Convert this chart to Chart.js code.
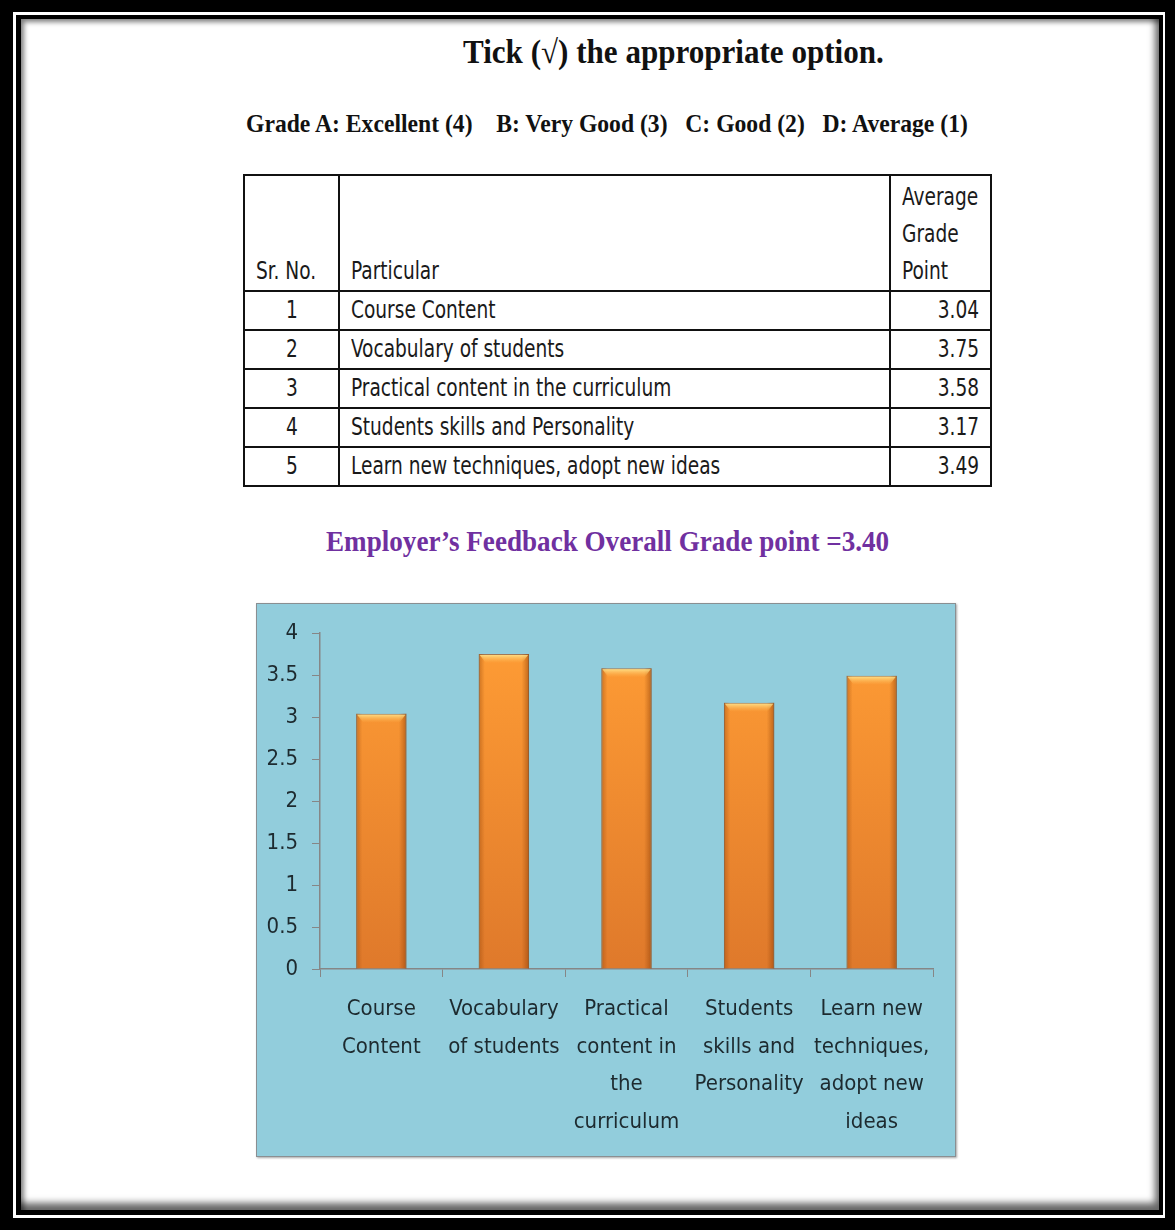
<!DOCTYPE html>
<html>
<head>
<meta charset="utf-8">
<script src="https://cdn.jsdelivr.net/npm/chart.js@4.4.1/dist/chart.umd.min.js"></script>
<style>
html,body{margin:0;padding:0;}
body{width:1175px;height:1230px;background:#000;position:relative;overflow:hidden;}
.f1{position:absolute;left:13px;top:12px;width:1152px;height:1206px;background:#fff;}
.f2{position:absolute;left:16px;top:15px;width:1147px;height:1200px;background:#000;}
.f3{position:absolute;left:21px;top:19px;width:1138px;height:1191px;background:#fff;
  box-shadow: inset 5px 5px 5px -2px rgba(0,0,0,0.5), inset -7px -10px 7px -3px rgba(0,0,0,0.6);}
.t{position:absolute;white-space:pre;font-family:"Liberation Serif","DejaVu Serif",serif;font-weight:bold;transform-origin:left center;line-height:1;color:#111;}
#tbl{position:absolute;left:243px;top:174px;width:747px;table-layout:fixed;border-collapse:collapse;font-family:"DejaVu Sans Condensed","DejaVu Sans",sans-serif;font-stretch:condensed;font-size:24px;color:#1a1a1a;}
#tbl td{border:2px solid #111;padding:0 11px;height:37px;line-height:37px;white-space:nowrap;overflow:visible;}
#tbl tr.h td{height:114px;vertical-align:bottom;line-height:37px;}
#tbl span{display:inline-block;transform:scaleX(0.86);}
#tbl .l span{transform-origin:left center;}
#tbl .c{text-align:center;}
#tbl .c span{transform-origin:center center;}
#tbl .r{text-align:right;}
#tbl .r span{transform-origin:right center;}
#chartBox{position:absolute;left:256px;top:603px;width:698px;height:552px;background:#92CDDC;border:1px solid #8a8f92;box-shadow:1px 1px 2px rgba(0,0,0,0.35);}
</style>
</head>
<body>
<div class="f1"></div>
<div class="f2"></div>
<div class="f3"></div>

<div class="t" id="title">Tick (√) the appropriate option.</div>
<div class="t" id="grades">Grade A: Excellent (4)    B: Very Good (3)   C: Good (2)   D: Average (1)</div>
<table id="tbl"></table>
<div class="t" id="overall" style="color:#7030A0">Employer’s Feedback Overall Grade point =3.40</div>

<div id="chartBox"><canvas id="c"></canvas></div>

<script>
// ---- data ----
const serialNos = [1, 2, 3, 4, 5];
const particulars = [
  "Course Content",
  "Vocabulary of students",
  "Practical content in the curriculum",
  "Students skills and Personality",
  "Learn new techniques, adopt new ideas"
];
const gradePoints = [3.04, 3.75, 3.58, 3.17, 3.49];
const gradePointLabels = ["3.04", "3.75", "3.58", "3.17", "3.49"];
const categories = [
  ["Course", "Content"],
  ["Vocabulary", "of students"],
  ["Practical", "content in", "the", "curriculum"],
  ["Students", "skills and", "Personality"],
  ["Learn new", "techniques,", "adopt new", "ideas"]
];
const yTicks = [0, 0.5, 1, 1.5, 2, 2.5, 3, 3.5, 4];
const yTickLabels = ["0", "0.5", "1", "1.5", "2", "2.5", "3", "3.5", "4"];
const headers = ["Sr. No.", "Particular", ["Average", "Grade", "Point"]];

// ---- headings ----
function place(id, left, centerY, width, size) {
  const el = document.getElementById(id);
  el.style.fontSize = size + 'px';
  el.style.left = left + 'px';
  el.style.top = (centerY - size / 2) + 'px';
  const w = el.offsetWidth;
  el.style.transform = 'scaleX(' + (width / w) + ')';
}
place('title', 463, 52, 421, 33);
place('grades', 246, 124, 722, 26);
place('overall', 326, 541, 563, 30);

// ---- table ----
const tbl = document.getElementById('tbl');
let html = '<colgroup><col style="width:95px"><col style="width:551px"><col style="width:101px"></colgroup>';
html += '<tr class="h"><td class="l"><span>' + headers[0] + '</span></td><td class="l"><span>' + headers[1] +
  '</span></td><td class="l"><span>' + headers[2].join('<br>') + '</span></td></tr>';
for (let i = 0; i < serialNos.length; i++) {
  html += '<tr><td class="c"><span>' + serialNos[i] + '</span></td><td class="l"><span>' + particulars[i] +
    '</span></td><td class="r"><span>' + gradePointLabels[i] + '</span></td></tr>';
}
tbl.innerHTML = html;

// ---- chart ----
const axisGray = '#868686';
const labelColor = '#1d2a2f';
const condFont = '"DejaVu Sans Condensed","DejaVu Sans",sans-serif';

const barShade = {
  id: 'barShade',
  afterDatasetsDraw(chart) {
    const ctx = chart.ctx;
    chart.getDatasetMeta(0).data.forEach(bar => {
      const p = bar.getProps(['x', 'y', 'base', 'width'], true);
      const l = p.x - p.width / 2, r = p.x + p.width / 2;
      const h = p.base - p.y;
      ctx.save();
      const g = ctx.createLinearGradient(l, 0, r, 0);
      g.addColorStop(0, 'rgba(150,70,10,0.45)');
      g.addColorStop(0.12, 'rgba(150,70,10,0.0)');
      g.addColorStop(0.85, 'rgba(150,70,10,0.0)');
      g.addColorStop(1, 'rgba(140,60,5,0.55)');
      ctx.fillStyle = g;
      ctx.fillRect(l, p.y, p.width, h);
      const bh = 9;
      const g2 = ctx.createLinearGradient(0, p.y, 0, p.y + bh);
      g2.addColorStop(0, 'rgba(255,236,150,0.95)');
      g2.addColorStop(1, 'rgba(255,190,90,0.0)');
      ctx.fillStyle = g2;
      ctx.beginPath();
      ctx.moveTo(l + 1, p.y + 1);
      ctx.lineTo(r - 1, p.y + 1);
      ctx.lineTo(r - 7, p.y + bh);
      ctx.lineTo(l + 7, p.y + bh);
      ctx.closePath();
      ctx.fill();
      ctx.restore();
    });
  }
};

new Chart(document.getElementById('c'), {
  type: 'bar',
  data: {
    labels: categories,
    datasets: [{
      data: gradePoints,
      backgroundColor(context) {
        const ca = context.chart.chartArea;
        if (!ca) return '#F79646';
        const g = context.chart.ctx.createLinearGradient(0, ca.top, 0, ca.bottom);
        g.addColorStop(0, '#FF9D35');
        g.addColorStop(1, '#DF792B');
        return g;
      },
      borderColor: 'rgba(170,85,25,0.7)',
      borderWidth: 1,
      borderSkipped: 'bottom',
      categoryPercentage: 1.0,
      barPercentage: 0.41
    }]
  },
  options: {
    responsive: true,
    maintainAspectRatio: false,
    animation: false,
    layout: { padding: { left: 0, top: 29, right: 22, bottom: 0 } },
    plugins: { legend: { display: false }, tooltip: { enabled: false } },
    scales: {
      x: {
        offset: true,
        grid: { display: true, drawOnChartArea: false, drawTicks: true, tickLength: 8, offset: true, color: axisGray, lineWidth: 1 },
        border: { display: true, color: axisGray, width: 1.5 },
        ticks: {
          autoSkip: false, maxRotation: 0, minRotation: 0, padding: 14,
          color: labelColor,
          font: { family: condFont, size: 22, lineHeight: 1.7 }
        },
        afterFit(scale) { scale.height = 187; }
      },
      y: {
        min: 0, max: 4,
        afterBuildTicks(axis) { axis.ticks = yTicks.map(v => ({ value: v })); },
        grid: { display: true, drawOnChartArea: false, drawTicks: true, tickLength: 8, color: axisGray, lineWidth: 1 },
        border: { display: true, color: axisGray, width: 1.5 },
        ticks: {
          padding: 14, color: labelColor,
          font: { family: condFont, size: 22 },
          callback(value, index) { return yTickLabels[index]; }
        },
        afterFit(scale) { scale.width = 63; }
      }
    }
  },
  plugins: [barShade]
});
</script>
</body>
</html>
